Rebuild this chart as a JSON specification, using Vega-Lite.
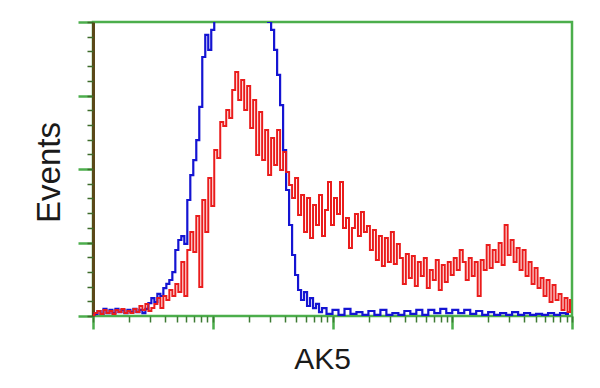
{
  "$schema": "https://vega.github.io/schema/vega-lite/v6.json",
  "width": 479,
  "height": 294,
  "autosize": {"type": "none"},
  "padding": {"left": 93, "top": 22, "right": 28, "bottom": 72},
  "background": "white",
  "config": {
    "view": {"stroke": "#4cae4c", "strokeWidth": 2.5},
    "axis": {"labels": false, "grid": false, "domain": false, "titleFont": "Liberation Sans", "titleFontWeight": "normal", "titleColor": "#1a1a1a"}
  },
  "datasets": {
    "red": [
      {"x":1,"y":0.7},{"x":1.059,"y":2.0},{"x":1.122,"y":3.4},{"x":1.189,"y":1.4},{"x":1.259,"y":4.1},{"x":1.334,"y":2.0},{"x":1.413,"y":3.4},{"x":1.496,"y":1.4},{"x":1.585,"y":4.1},{"x":1.679,"y":2.7},{"x":1.778,"y":4.8},{"x":1.884,"y":2.0},{"x":1.995,"y":3.4},{"x":2.113,"y":2.0},{"x":2.239,"y":4.8},{"x":2.371,"y":2.7},{"x":2.512,"y":6.8},{"x":2.661,"y":4.1},{"x":2.818,"y":8.2},{"x":2.985,"y":3.4},{"x":3.162,"y":5.4},{"x":3.350,"y":8.2},{"x":3.548,"y":12.2},{"x":3.758,"y":5.4},{"x":3.981,"y":13.6},{"x":4.217,"y":10.9},{"x":4.467,"y":17.7},{"x":4.732,"y":13.6},{"x":5.012,"y":21.8},{"x":5.309,"y":16.3},{"x":5.623,"y":36.7},{"x":5.957,"y":13.6},{"x":6.310,"y":44.9},{"x":6.683,"y":57.1},{"x":7.079,"y":43.5},{"x":7.499,"y":68.0},{"x":7.943,"y":19.7},{"x":8.414,"y":78.9},{"x":8.913,"y":57.1},{"x":9.441,"y":93.9},{"x":10,"y":74.8},{"x":10.59,"y":112.9},{"x":11.22,"y":107.5},{"x":11.89,"y":132.0},{"x":12.59,"y":129.3},{"x":13.34,"y":140.1},{"x":14.13,"y":134.7},{"x":14.96,"y":153.7},{"x":15.85,"y":166.0},{"x":16.79,"y":146.9},{"x":17.78,"y":160.6},{"x":18.84,"y":140.1},{"x":19.95,"y":156.5},{"x":21.13,"y":127.9},{"x":22.39,"y":146.9},{"x":23.71,"y":109.5},{"x":25.12,"y":138.8},{"x":26.61,"y":106.1},{"x":28.18,"y":126.5},{"x":29.85,"y":95.9},{"x":31.62,"y":121.1},{"x":33.50,"y":102.7},{"x":35.48,"y":126.5},{"x":37.58,"y":99.3},{"x":39.81,"y":111.6},{"x":42.17,"y":98.0},{"x":44.67,"y":89.1},{"x":47.32,"y":80.3},{"x":50.12,"y":93.9},{"x":53.09,"y":68.7},{"x":56.23,"y":82.3},{"x":59.57,"y":57.1},{"x":63.10,"y":80.3},{"x":66.83,"y":53.1},{"x":70.79,"y":75.5},{"x":74.99,"y":61.9},{"x":79.43,"y":82.3},{"x":84.14,"y":54.4},{"x":89.13,"y":72.1},{"x":94.41,"y":91.2},{"x":100,"y":61.9},{"x":105.9,"y":80.3},{"x":112.2,"y":69.4},{"x":118.9,"y":91.2},{"x":125.9,"y":59.9},{"x":133.4,"y":66.7},{"x":141.3,"y":46.3},{"x":149.6,"y":59.9},{"x":158.5,"y":69.4},{"x":167.9,"y":54.4},{"x":177.8,"y":70.8},{"x":188.4,"y":57.1},{"x":199.5,"y":61.2},{"x":211.3,"y":44.9},{"x":223.9,"y":58.5},{"x":237.1,"y":38.1},{"x":251.2,"y":54.4},{"x":266.1,"y":34.0},{"x":281.8,"y":53.1},{"x":298.5,"y":36.7},{"x":316.2,"y":57.1},{"x":335.0,"y":35.4},{"x":354.8,"y":49.0},{"x":375.8,"y":39.5},{"x":398.1,"y":21.8},{"x":421.7,"y":42.2},{"x":446.7,"y":25.9},{"x":473.2,"y":40.8},{"x":501.2,"y":20.4},{"x":530.9,"y":36.7},{"x":562.3,"y":27.2},{"x":595.7,"y":39.5},{"x":631.0,"y":19.0},{"x":668.3,"y":31.3},{"x":707.9,"y":24.5},{"x":749.9,"y":38.1},{"x":794.3,"y":17.7},{"x":841.4,"y":34.7},{"x":891.3,"y":23.1},{"x":944.1,"y":36.7},{"x":1000,"y":27.9},{"x":1059,"y":39.5},{"x":1122,"y":31.3},{"x":1189,"y":44.9},{"x":1259,"y":36.7},{"x":1334,"y":24.5},{"x":1413,"y":39.5},{"x":1496,"y":27.2},{"x":1585,"y":36.7},{"x":1679,"y":13.6},{"x":1778,"y":38.1},{"x":1884,"y":31.3},{"x":1995,"y":48.3},{"x":2113,"y":32.7},{"x":2239,"y":44.9},{"x":2371,"y":36.7},{"x":2512,"y":49.7},{"x":2661,"y":34.7},{"x":2818,"y":61.9},{"x":2985,"y":41.5},{"x":3162,"y":51.7},{"x":3350,"y":36.7},{"x":3548,"y":46.3},{"x":3758,"y":31.3},{"x":3981,"y":44.9},{"x":4217,"y":27.2},{"x":4467,"y":36.7},{"x":4732,"y":21.8},{"x":5012,"y":32.7},{"x":5309,"y":19.0},{"x":5623,"y":25.9},{"x":5957,"y":13.6},{"x":6310,"y":24.5},{"x":6683,"y":9.5},{"x":7079,"y":21.1},{"x":7499,"y":10.9},{"x":7943,"y":15.0},{"x":8414,"y":4.1},{"x":8913,"y":12.2},{"x":9441,"y":2.7},{"x":9817,"y":10.9}
    ],
    "blue": [
      {"x":1,"y":0.7},{"x":1.059,"y":1.4},{"x":1.122,"y":3.4},{"x":1.189,"y":1.4},{"x":1.259,"y":4.8},{"x":1.334,"y":2.0},{"x":1.413,"y":4.1},{"x":1.496,"y":2.0},{"x":1.585,"y":4.8},{"x":1.679,"y":2.7},{"x":1.778,"y":4.1},{"x":1.884,"y":2.0},{"x":1.995,"y":4.1},{"x":2.113,"y":2.7},{"x":2.239,"y":4.8},{"x":2.371,"y":2.7},{"x":2.512,"y":4.1},{"x":2.661,"y":2.0},{"x":2.818,"y":4.8},{"x":2.985,"y":8.8},{"x":3.162,"y":12.2},{"x":3.350,"y":9.5},{"x":3.548,"y":15.0},{"x":3.758,"y":13.6},{"x":3.981,"y":19.0},{"x":4.217,"y":21.8},{"x":4.467,"y":24.5},{"x":4.732,"y":29.9},{"x":5.012,"y":44.9},{"x":5.309,"y":51.7},{"x":5.623,"y":54.4},{"x":5.957,"y":49.0},{"x":6.310,"y":78.9},{"x":6.683,"y":95.9},{"x":7.079,"y":106.1},{"x":7.499,"y":119.7},{"x":7.943,"y":142.2},{"x":8.414,"y":176.2},{"x":8.913,"y":191.2},{"x":9.441,"y":181.0},{"x":10,"y":194.6},{"x":10.59,"y":204.8},{"x":11.89,"y":228.6},{"x":14.13,"y":255.8},{"x":16.79,"y":269.4},{"x":19.95,"y":272.8},{"x":23.71,"y":266.0},{"x":28.18,"y":228.6},{"x":29.85,"y":200.0},{"x":31.62,"y":194.6},{"x":33.50,"y":181.0},{"x":35.48,"y":164.0},{"x":37.58,"y":143.5},{"x":39.81,"y":112.9},{"x":42.17,"y":85.7},{"x":44.67,"y":61.9},{"x":47.32,"y":41.5},{"x":50.12,"y":27.9},{"x":53.09,"y":17.7},{"x":56.23,"y":10.9},{"x":59.57,"y":16.3},{"x":63.10,"y":6.8},{"x":66.83,"y":12.2},{"x":70.79,"y":5.4},{"x":74.99,"y":8.2},{"x":79.43,"y":2.7},{"x":84.14,"y":5.4},{"x":94.41,"y":1.4},{"x":105.9,"y":4.1},{"x":118.9,"y":0.7},{"x":133.4,"y":4.8},{"x":149.6,"y":1.4},{"x":167.9,"y":2.7},{"x":188.4,"y":0.7},{"x":211.3,"y":3.4},{"x":237.1,"y":0.7},{"x":266.1,"y":4.1},{"x":298.5,"y":0.7},{"x":335.0,"y":2.0},{"x":375.8,"y":0.7},{"x":421.7,"y":3.4},{"x":473.2,"y":1.4},{"x":530.9,"y":4.1},{"x":595.7,"y":0.7},{"x":668.3,"y":4.1},{"x":749.9,"y":2.0},{"x":841.4,"y":4.8},{"x":944.1,"y":2.0},{"x":1059,"y":4.1},{"x":1189,"y":2.0},{"x":1334,"y":4.1},{"x":1496,"y":1.4},{"x":1679,"y":3.4},{"x":1884,"y":0.7},{"x":2113,"y":2.7},{"x":2371,"y":0.7},{"x":2661,"y":2.0},{"x":2985,"y":0.7},{"x":3350,"y":2.7},{"x":3758,"y":0.7},{"x":4217,"y":2.0},{"x":4732,"y":0.7},{"x":5309,"y":1.4},{"x":5957,"y":0.7},{"x":6683,"y":2.0},{"x":7499,"y":0.7},{"x":8414,"y":2.0},{"x":9441,"y":1.4}
    ]
  },
  "layer": [
    {
      "data": {"name": "blue"},
      "mark": {"type": "line", "interpolate": "step", "color": "#1414d2", "strokeWidth": 2.2, "clip": true},
      "encoding": {
        "x": {"field": "x", "type": "quantitative", "scale": {"type": "log", "domain": [1, 10000]},
              "axis": {"orient": "bottom", "values": [1, 10, 100, 1000, 10000], "tickSize": 13, "tickWidth": 2.5, "tickColor": "#4cae4c",
                       "title": "AK5", "titleFontSize": 30, "titleX": 229, "titleY": 52, "titleAlign": "center", "titleBaseline": "alphabetic"}},
        "y": {"field": "y", "type": "quantitative", "scale": {"domain": [0, 200], "nice": false},
              "axis": {"orient": "left", "values": [0, 50, 100, 150, 200], "tickSize": 15, "tickWidth": 2.5, "tickColor": "#4cae4c",
                       "domain": true, "domainColor": "#5a4818", "domainWidth": 3,
                       "title": "Events", "titleFontSize": 33, "titleAngle": -90, "titleX": -44, "titleY": 150, "titleAlign": "center", "titleBaseline": "middle"}}
      }
    },
    {
      "data": {"name": "red"},
      "mark": {"type": "line", "interpolate": "step", "color": "#ea1c1c", "strokeWidth": 2, "clip": true},
      "encoding": {
        "x": {"field": "x", "type": "quantitative", "scale": {"type": "log", "domain": [1, 10000]},
              "axis": {"orient": "bottom", "values": [1,2,3,4,5,6,7,8,9,10,20,30,40,50,60,70,80,90,100,200,300,400,500,600,700,800,900,1000,2000,3000,4000,5000,6000,7000,8000,9000,10000],
                       "tickSize": 6, "tickWidth": 1.5, "tickColor": "#3d7a33", "title": null}},
        "y": {"field": "y", "type": "quantitative", "scale": {"domain": [0, 200], "nice": false},
              "axis": {"orient": "left", "values": [0,10,20,30,40,50,60,70,80,90,100,110,120,130,140,150,160,170,180,190,200],
                       "tickSize": 6, "tickWidth": 1.5, "tickColor": "#3d6b2a", "title": null}}
      }
    }
  ],
  "resolve": {"axis": {"x": "independent", "y": "independent"}}
}
